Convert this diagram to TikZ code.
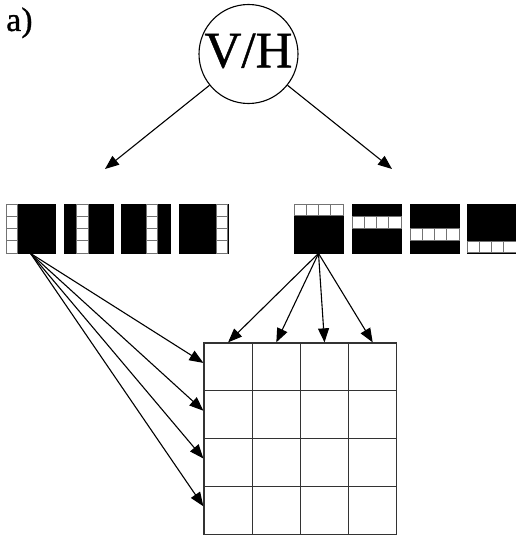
\documentclass[tikz,border=0pt]{standalone}
\usepackage{fontspec}
\setmainfont{Liberation Serif}
\newfontfamily\heavyserif[FakeBold=0.8]{Liberation Serif}
\usetikzlibrary{arrows.meta}
\begin{document}
\begin{tikzpicture}[x=1pt,y=-1pt,
  arr/.style={draw, line width=1.1pt, -{Triangle[length=14pt,width=11pt]}},
  blk/.style={draw=black, fill=black, minimum size=49pt, inner sep=0pt, line width=0.8pt},
  wcell/.style={draw=black!55, fill=white, line width=1pt},
  gcell/.style={draw=black!80, line width=1.3pt, minimum width=48.2pt, minimum height=47.8pt, inner sep=0pt},
]
\useasboundingbox (0,0) rectangle (516,535);
% label
\node[anchor=base west, inner sep=0pt, font=\heavyserif\fontsize{34}{34}\selectfont] (lab) at (6,31) {a)};
% root circle
\node[draw, circle, line width=1.1pt, minimum size=99pt, inner sep=0pt,
      font=\heavyserif\fontsize{51}{51}\selectfont, text depth=7pt] (vh) at (248.5,54) {V/H};
\coordinate (vl) at (105,169);
\coordinate (vr) at (392,169);
\draw[arr] (vh) -- (vl);
\draw[arr] (vh) -- (vr);
% left blocks (vertical white column)
\foreach \k/\cx in {1/30.5,2/88.5,3/146,4/203.5}{
  \node[blk] (L\k) at (\cx,228.5) {};
  \foreach \r in {1,...,4}{
    \draw[wcell] (\cx-24.5+12.25*\k-12.25+0.3, 228.5-24.5+12.25*\r-12.25) rectangle ++(11.65,12.25);
  }
}
% right blocks (horizontal white row)
\foreach \k/\cx in {1/318.5,2/376.5,3/434.5,4/491.5}{
  \node[blk] (R\k) at (\cx,228.5) {};
  \foreach \c in {1,...,4}{
    \draw[wcell] (\cx-24.5+12.25*\c-12.25, 228.5-24.5+12.25*\k-12.25+0.3) rectangle ++(12.25,11.65);
  }
}
% grid
\foreach \r in {1,...,4}{
  \foreach \c in {1,...,4}{
    \node[gcell] (g-\r-\c) at (204+48.2*\c-24.1, 343+47.8*\r-23.9) {};
  }
}
% fans
\foreach \r in {1,...,4}{
  \draw[arr] (L1.south) -- ([yshift=4pt]g-\r-1.west);
}
\foreach \c in {1,...,4}{
  \draw[arr] (R1.south) -- (g-1-\c.north);
}
\end{tikzpicture}
\end{document}
